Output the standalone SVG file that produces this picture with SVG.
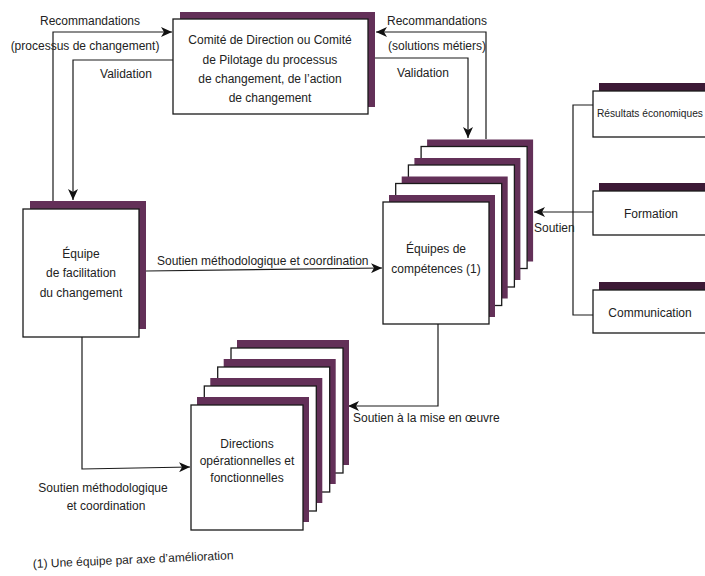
<svg xmlns="http://www.w3.org/2000/svg" width="705" height="576" viewBox="0 0 705 576">
  <defs>
    <marker id="arrow" markerUnits="userSpaceOnUse" markerWidth="12" markerHeight="10" refX="11" refY="5" orient="auto">
      <path d="M0,0 L11,5 L0,10 L3,5 z" fill="#111"/>
    </marker>
    <!-- one card of a stack: shadow band + white face -->
    <g id="cardComp">
      <rect x="6" y="-7" width="106" height="122" class="shade"/>
      <rect x="0" y="0" width="106" height="122" class="face"/>
    </g>
    <g id="cardDir">
      <rect x="6" y="-8" width="112" height="125" class="shade"/>
      <rect x="0" y="0" width="112" height="125" class="face"/>
    </g>
  </defs>
  <style>
    .shade { fill: #633058; }
    .shade-dark { fill: #3d1a36; }
    .face { fill: #fff; stroke: #1a1a1a; stroke-width: 1.3; }
    .wire { fill: none; stroke: #1a1a1a; stroke-width: 1.2; }
    text { font-family: "Liberation Sans", Arial, sans-serif; font-size: 12px; fill: #222; }
    .mid { text-anchor: middle; }
  </style>
  <rect width="705" height="576" fill="#fff"/>

  <!-- connectors -->
  <g id="connectors">
    <polyline class="wire" points="53,201 53,32 172,32" marker-end="url(#arrow)"/>
    <polyline class="wire" points="173,60 73,60 73,200" marker-end="url(#arrow)"/>
    <polyline class="wire" points="374,58 468,58 468,138" marker-end="url(#arrow)"/>
    <polyline class="wire" points="486,139 486,32 376,32" marker-end="url(#arrow)"/>
    <line class="wire" x1="146" y1="271" x2="382" y2="268" marker-end="url(#arrow)"/>
    <polyline class="wire" points="593,105 573,105 573,315 593,315"/>
    <line class="wire" x1="593" y1="212" x2="534" y2="212" marker-end="url(#arrow)"/>
    <polyline class="wire" points="438,324 438,406 348,406" marker-end="url(#arrow)"/>
    <polyline class="wire" points="82,337 82,469 190,467" marker-end="url(#arrow)"/>
  </g>

  <!-- connector labels -->
  <g id="labels">
    <text class="mid" x="90" y="25">Recommandations</text>
    <text class="mid" x="85" y="50">(processus de changement)</text>
    <text class="mid" x="126" y="78">Validation</text>
    <text class="mid" x="437" y="25">Recommandations</text>
    <text class="mid" x="437" y="50">(solutions métiers)</text>
    <text class="mid" x="423" y="77">Validation</text>
    <text x="157" y="265">Soutien méthodologique et coordination</text>
    <text x="534" y="232">Soutien</text>
    <text x="353" y="422">Soutien à la mise en œuvre</text>
    <text class="mid" x="103" y="492">Soutien méthodologique</text>
    <text class="mid" x="106" y="510">et coordination</text>
  </g>

  <!-- steering committee -->
  <g id="comite">
    <rect x="180" y="12" width="195" height="95" class="shade"/>
    <rect x="173" y="19" width="195" height="95" class="face"/>
    <text class="mid" x="270" y="44">Comité de Direction ou Comité</text>
    <text class="mid" x="270" y="64">de Pilotage du processus</text>
    <text class="mid" x="270" y="83">de changement, de l’action</text>
    <text class="mid" x="270" y="102">de changement</text>
  </g>

  <!-- facilitation team -->
  <g id="equipe-facilitation">
    <rect x="30" y="201" width="116" height="128" class="shade"/>
    <rect x="23" y="209" width="116" height="128" class="face"/>
    <text class="mid" x="81" y="258">Équipe</text>
    <text class="mid" x="81" y="277">de facilitation</text>
    <text class="mid" x="81" y="297">du changement</text>
  </g>

  <!-- competence teams (stack) -->
  <g id="equipes-competences">
    <use href="#cardComp" x="421.1" y="146.5"/>
    <use href="#cardComp" x="408.4" y="165"/>
    <use href="#cardComp" x="395.7" y="183.5"/>
    <use href="#cardComp" x="383" y="202"/>
    <text class="mid" x="436" y="253">Équipes de</text>
    <text class="mid" x="436" y="273">compétences (1)</text>
  </g>

  <!-- operational directions (stack) -->
  <g id="directions">
    <use href="#cardDir" x="231" y="348"/>
    <use href="#cardDir" x="217.7" y="367"/>
    <use href="#cardDir" x="204.3" y="386"/>
    <use href="#cardDir" x="191" y="405"/>
    <text class="mid" x="247" y="448">Directions</text>
    <text class="mid" x="247" y="465">opérationnelles et</text>
    <text class="mid" x="247" y="482">fonctionnelles</text>
  </g>

  <!-- support functions -->
  <g id="resultats">
    <rect x="599" y="83" width="130" height="45" class="shade-dark"/>
    <rect x="593" y="91" width="130" height="46" class="face"/>
    <text x="597" y="117" style="font-size:10.2px">Résultats économiques</text>
  </g>
  <g id="formation">
    <rect x="599" y="183" width="130" height="44" class="shade-dark"/>
    <rect x="593" y="191" width="130" height="44" class="face"/>
    <text class="mid" x="651" y="218">Formation</text>
  </g>
  <g id="communication">
    <rect x="599" y="282" width="130" height="44" class="shade-dark"/>
    <rect x="593" y="290" width="130" height="43" class="face"/>
    <text class="mid" x="650" y="317">Communication</text>
  </g>

  <!-- footnote -->
  <text x="33" y="568" transform="rotate(-2.5 33 568)">(1) Une équipe par axe d’amélioration</text>
</svg>
